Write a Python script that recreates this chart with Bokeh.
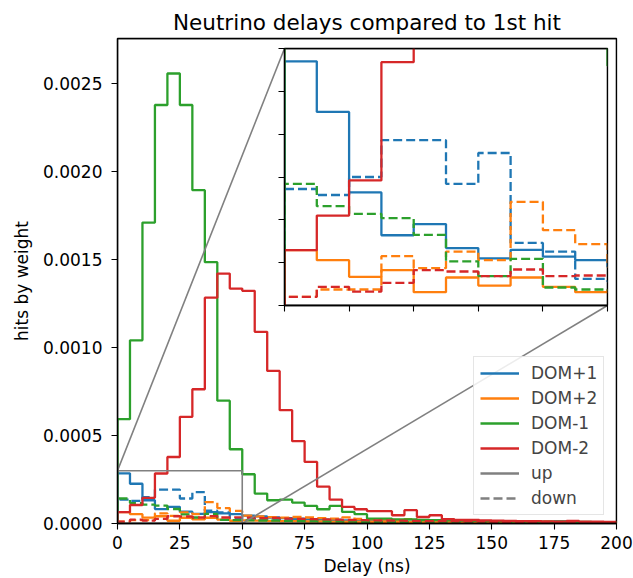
import numpy as np
from bokeh.plotting import figure
from bokeh.layouts import column
from bokeh.models import Range1d, FixedTicker, PrintfTickFormatter, Legend, LegendItem
from bokeh.embed import file_html
from bokeh.resources import INLINE

# ---------------- data ----------------
bin_edges = list(range(0, 205, 5))          # ns, 40 bins of 5 ns
dom_labels = ["DOM+1", "DOM+2", "DOM-1", "DOM-2"]
dom_colors = ["#1f77b4", "#ff7f0e", "#2ca02c", "#d62728"]

dom_p1_up = [0.000285, 0.000226, 0.000132, 0.000082, 0.000095, 0.000067, 0.000055, 0.000065, 0.000057, 0.000053,
             0.000045, 0.000040, 0.000034, 0.000030, 0.000027, 0.000024, 0.000022, 0.000020, 0.000017, 0.000016,
             0.000014, 0.000013, 0.000012, 0.000011, 0.000010, 0.000009, 0.000009, 0.000008, 0.000008, 0.000007,
             0.000007, 0.000006, 0.000006, 0.000006, 0.000006, 0.000012, 0.000005, 0.000005, 0.000004, 0.000004]
dom_p1_down = [0.000136, 0.000129, 0.000150, 0.000193, 0.000193, 0.000142, 0.000178, 0.000073, 0.000063, 0.000031,
               0.000028, 0.000026, 0.000022, 0.000020, 0.000018, 0.000017, 0.000015, 0.000014, 0.000012, 0.000011,
               0.000010, 0.000010, 0.000009, 0.000008, 0.000008, 0.000007, 0.000007, 0.000006, 0.000006, 0.000006,
               0.000005, 0.000005, 0.000005, 0.000004, 0.000004, 0.000004, 0.000004, 0.000003, 0.000003, 0.000003]
dom_p2_up = [0.0000646, 0.0000529, 0.0000335, 0.0000412, 0.0000156, 0.0000327, 0.0000233, 0.0000327, 0.0000218, 0.0000156,
             0.000018, 0.000016, 0.000015, 0.000014, 0.000013, 0.000012, 0.000012, 0.000011, 0.000010, 0.000010,
             0.000009, 0.000009, 0.000008, 0.000008, 0.000007, 0.000007, 0.000007, 0.000006, 0.000006, 0.000006,
             0.000005, 0.000005, 0.000005, 0.000005, 0.000004, 0.000004, 0.000004, 0.000004, 0.000003, 0.000003]
dom_p2_down = [0.0000101, 0.0000187, 0.0000187, 0.0000576, 0.0000436, 0.0000630, 0.0000529, 0.000121, 0.0000879, 0.0000716,
               0.000045, 0.000040, 0.000036, 0.000033, 0.000037, 0.000034, 0.000030, 0.000028, 0.000035, 0.000026,
               0.000024, 0.000022, 0.000020, 0.000025, 0.000019, 0.000017, 0.000016, 0.000015, 0.000014, 0.000013,
               0.000012, 0.000012, 0.000011, 0.000010, 0.000010, 0.000009, 0.000009, 0.000008, 0.000008, 0.000007]
dom_m1_up = [0.000593, 0.001041, 0.001710, 0.002378, 0.002557, 0.002378, 0.001894, 0.001485, 0.000698, 0.000422,
             0.000280, 0.000170, 0.000132, 0.000136, 0.000119, 0.000100, 0.000081, 0.000100, 0.000066, 0.000053,
             0.000028, 0.000028, 0.000023, 0.000023, 0.000020, 0.000019, 0.000018, 0.000016, 0.000015, 0.000014,
             0.000013, 0.000012, 0.000012, 0.000011, 0.000010, 0.000010, 0.000009, 0.000009, 0.000008, 0.000008]
dom_m1_down = [0.000142, 0.000116, 0.000107, 0.000102, 0.0000825, 0.0000514, 0.0000342, 0.0000545, 0.000021, 0.0000187,
               0.000018, 0.000017, 0.000016, 0.000015, 0.000014, 0.000013, 0.000012, 0.000012, 0.000011, 0.000010,
               0.000010, 0.000009, 0.000009, 0.000008, 0.000008, 0.000007, 0.000007, 0.000007, 0.000006, 0.000006,
               0.000006, 0.000005, 0.000005, 0.000005, 0.000005, 0.000004, 0.000004, 0.000004, 0.000004, 0.000003]
dom_m2_up = [0.0000646, 0.000105, 0.000146, 0.000284, 0.000378, 0.000606, 0.000763, 0.001283, 0.001420, 0.001335,
             0.001322, 0.001089, 0.000867, 0.000644, 0.000468, 0.000350, 0.000209, 0.000136, 0.000094, 0.000081,
             0.000070, 0.000070, 0.000047, 0.000076, 0.000037, 0.000047, 0.000025, 0.000020, 0.000020, 0.000018,
             0.000016, 0.000015, 0.000014, 0.000013, 0.000012, 0.000011, 0.000015, 0.000010, 0.000010, 0.000009]
dom_m2_down = [0.0000101, 0.0000218, 0.0000163, 0.0000265, 0.0000412, 0.0000397, 0.0000342, 0.0000420, 0.0000342, 0.0000350,
               0.000033, 0.000030, 0.000032, 0.000028, 0.000026, 0.000025, 0.000023, 0.000022, 0.000020, 0.000019,
               0.000018, 0.000017, 0.000016, 0.000015, 0.000014, 0.000014, 0.000013, 0.000012, 0.000012, 0.000011,
               0.000010, 0.000010, 0.000009, 0.000009, 0.000008, 0.000008, 0.000008, 0.000007, 0.000007, 0.000007]

series_up = [dom_p1_up, dom_p2_up, dom_m1_up, dom_m2_up]
series_down = [dom_p1_down, dom_p2_down, dom_m1_down, dom_m2_down]

x_ticks = [0, 25, 50, 75, 100, 125, 150, 175, 200]
y_ticks = [0.0, 0.0005, 0.0010, 0.0015, 0.0020, 0.0025]
inset_xticks = [0, 10, 20, 30, 40, 50]
inset_yticks = [0.0, 0.00005, 0.0001, 0.00015, 0.0002, 0.00025, 0.0003]

# ---------------- layout constants ----------------
W, H = 633, 578
FL, FR, FT, FB = 117, 616, 38, 523           # main frame px
XMAX, YMAX = 200, 0.002756
IXLIM, IYLIM = (0, 50), (0, 0.0003)
IL, IR, IT, IB = 284, 607, 48, 305           # inset frame px
PADT, PADB = 2, 12
PADL, PADR = FL, W - FR                      # same side borders as main (column aligns frames)
FONT = "DejaVu Sans"
DASH = "9 4"
LW = 2.3
SPINE_W = 1.3
GRAY = "#808080"


def staircase(edges, vals):
    e = np.asarray(edges, dtype=float)
    v = np.asarray(vals, dtype=float)
    xs = np.repeat(e, 2)
    ys = np.concatenate([[0.0], np.repeat(v, 2), [0.0]])
    return xs, ys


def style_axes(fig):
    for ax in (fig.xaxis[0], fig.yaxis[0]):
        ax.axis_line_color = "black"
        ax.axis_line_width = SPINE_W
        ax.major_tick_line_color = "black"
        ax.major_tick_line_width = 1.1
        ax.major_tick_in = 0
        ax.major_tick_out = 6
        ax.minor_tick_line_color = None
    fig.xgrid.visible = False
    fig.ygrid.visible = False
    fig.outline_line_color = "black"
    fig.outline_line_width = SPINE_W
    fig.outline_line_alpha = 1.0


def spines_on_top(fig, xlim, ylim):
    # matplotlib draws the axes box above the data lines
    fig.quad(left=xlim[0], right=xlim[1], bottom=ylim[0], top=ylim[1],
             fill_color=None, line_color="black", line_width=SPINE_W)


# ---------------- main figure ----------------
p = figure(width=W, height=H, output_backend="svg", toolbar_location=None,
           x_range=Range1d(0, XMAX), y_range=Range1d(0, YMAX),
           min_border_left=FL, min_border_right=W - FR,
           min_border_top=FT, min_border_bottom=H - FB,
           title="Neutrino delays compared to 1st hit")
p.title.text_font = FONT
p.title.text_font_size = "21.5px"
p.title.text_font_style = "normal"
p.title.text_color = "black"
p.title.align = "center"
p.title.standoff = 8
style_axes(p)
p.xaxis.ticker = FixedTicker(ticks=x_ticks, minor_ticks=[])
p.yaxis.ticker = FixedTicker(ticks=y_ticks, minor_ticks=[])
p.yaxis.formatter = PrintfTickFormatter(format="%.4f")
for ax in (p.xaxis[0], p.yaxis[0]):
    ax.major_label_text_font = FONT
    ax.major_label_text_font_size = "17px"
    ax.major_label_text_color = "black"
    ax.axis_label_text_font = FONT
    ax.axis_label_text_font_size = "17px"
    ax.axis_label_text_font_style = "normal"
    ax.axis_label_text_color = "black"
p.xaxis.axis_label = "Delay (ns)"
p.yaxis.axis_label = "hits by weight"
p.xaxis.major_label_standoff = 6
p.yaxis.major_label_standoff = 9
p.xaxis.axis_label_standoff = 4
p.yaxis.axis_label_standoff = 8

legend_items = []
for lab, col, up, down in zip(dom_labels, dom_colors, series_up, series_down):
    xs, ys = staircase(bin_edges, up)
    r = p.line(xs, ys, line_color=col, line_width=LW)
    xs, ys = staircase(bin_edges, down)
    p.line(xs, ys, line_color=col, line_width=LW, line_dash=DASH)
    legend_items.append(LegendItem(label=lab, renderers=[r]))

# legend proxies for the line styles (no visible data)
r_up = p.line(x=[np.nan], y=[np.nan], line_color=GRAY, line_width=LW)
r_down = p.line(x=[np.nan], y=[np.nan], line_color=GRAY, line_width=LW, line_dash=DASH)
legend_items.append(LegendItem(label="up", renderers=[r_up]))
legend_items.append(LegendItem(label="down", renderers=[r_down]))

# zoom indicator rectangle and connectors
p.quad(left=IXLIM[0], right=IXLIM[1], bottom=IYLIM[0], top=IYLIM[1],
       fill_color=None, line_color=GRAY, line_width=1.6)


def px_to_data(px, py):
    return ((px - FL) / (FR - FL) * XMAX, (FB - py) / (FB - FT) * YMAX)


c1 = px_to_data(IL, IT)
c2 = px_to_data(IR, IB)
p.segment(x0=[IXLIM[0], IXLIM[1]], y0=[IYLIM[1], IYLIM[0]],
          x1=[c1[0], c2[0]], y1=[c1[1], c2[1]], line_color=GRAY, line_width=1.6)
spines_on_top(p, (0, XMAX), (0, YMAX))

legend = Legend(items=legend_items, location=(356, 8),
                label_text_font=FONT, label_text_font_size="17px",
                glyph_width=39, glyph_height=20, label_height=20,
                spacing=5, padding=6, margin=0, label_standoff=12,
                border_line_color="#cccccc", border_line_width=1.1,
                background_fill_color="white", background_fill_alpha=0.85)
p.add_layout(legend)

# ---------------- inset ----------------
ins = figure(width=PADL + (IR - IL) + PADR, height=PADT + (IB - IT) + PADB,
             frame_width=IR - IL, frame_height=IB - IT,
             output_backend="svg", toolbar_location=None,
             x_range=Range1d(*IXLIM), y_range=Range1d(*IYLIM),
             min_border_left=PADL, min_border_right=PADR,
             min_border_top=PADT, min_border_bottom=PADB,
             styles={"position": "absolute", "left": f"{IL - PADL}px", "top": f"{IT - PADT}px"})
ins.border_fill_alpha = 0
ins.background_fill_color = "white"
style_axes(ins)
ins.xaxis.ticker = FixedTicker(ticks=inset_xticks, minor_ticks=[])
ins.yaxis.ticker = FixedTicker(ticks=inset_yticks, minor_ticks=[])
ins.xaxis.major_label_overrides = {t: "" for t in inset_xticks}
ins.yaxis.major_label_overrides = {t: "" for t in inset_yticks}
for ax in (ins.xaxis[0], ins.yaxis[0]):
    ax.major_label_text_font_size = "1px"
    ax.major_label_standoff = 0
for col, up, down in zip(dom_colors, series_up, series_down):
    xs, ys = staircase(bin_edges, up)
    ins.line(xs, ys, line_color=col, line_width=LW)
    xs, ys = staircase(bin_edges, down)
    ins.line(xs, ys, line_color=col, line_width=LW, line_dash=DASH)
spines_on_top(ins, IXLIM, IYLIM)

layout = column(p, ins)
open("out.html", "w").write(file_html(layout, INLINE))
